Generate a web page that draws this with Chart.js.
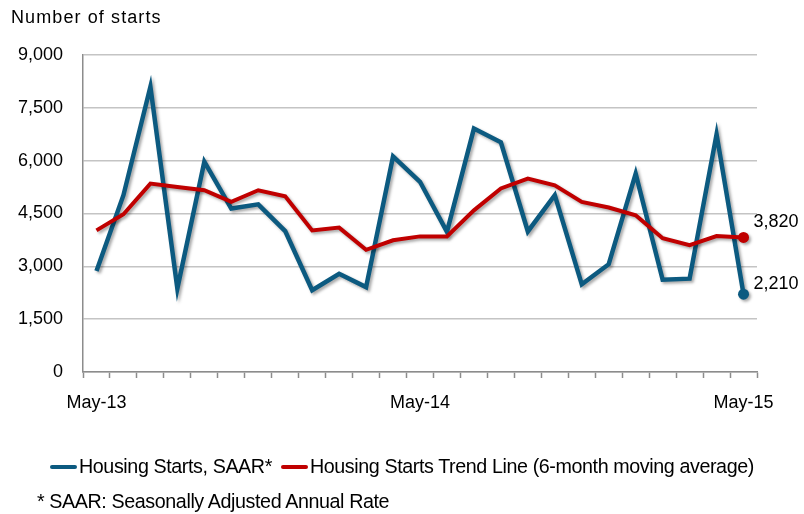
<!DOCTYPE html>
<html>
<head>
<meta charset="utf-8">
<script src="https://cdn.jsdelivr.net/npm/chart.js@4.4.1/dist/chart.umd.min.js"></script>
<style>
  html, body { margin: 0; padding: 0; background: #fff; }
  #wrap { position: relative; width: 804px; height: 514px; font-family: "Liberation Sans", Arial, sans-serif; color: #000; }
  #chart { position: absolute; left: 0; top: 0; }
  .txt { position: absolute; white-space: nowrap; font-size: 18px; line-height: 22px; }
  #yTitle { left: 11px; top: 6px; letter-spacing: 1.1px; }
  #legend { left: 50px; top: 455px; font-size: 19.7px; letter-spacing: -0.4px; }
  #legend .key { display: inline-block; width: 27px; height: 4px; vertical-align: middle; margin-right: 2px; position: relative; top: -1px; border-radius: 2px; }
  #note { left: 37px; top: 490px; font-size: 19.7px; letter-spacing: -0.4px; }
</style>
</head>
<body>
<div id="wrap">
  <canvas id="chart" width="804" height="514"></canvas>
  <div class="txt" id="yTitle">Number of starts</div>
  <div class="txt" id="legend"></div>
  <div class="txt" id="note">* SAAR: Seasonally Adjusted Annual Rate</div>
</div>
<script>
// Months from May-13 to May-15
const months = ['May-13','Jun-13','Jul-13','Aug-13','Sep-13','Oct-13','Nov-13','Dec-13',
                'Jan-14','Feb-14','Mar-14','Apr-14','May-14','Jun-14','Jul-14','Aug-14',
                'Sep-14','Oct-14','Nov-14','Dec-14','Jan-15','Feb-15','Mar-15','Apr-15','May-15'];
const shownTicks = ['May-13', 'May-14', 'May-15'];
const yTicks = [0, 1500, 3000, 4500, 6000, 7500, 9000];

// Housing starts, SAAR
const startsSaar = [2870, 5020, 8100, 2370, 5970, 4640, 4760, 4000,
                    2320, 2790, 2410, 6120, 5400, 3980, 6910, 6520,
                    3990, 5020, 2490, 3060, 5630, 2620, 2650, 6750, 2210];
// 6-month moving average trend
const startsTrend = [4020, 4480, 5350, 5250, 5160, 4830, 5160, 4990,
                     4020, 4100, 3470, 3740, 3850, 3850, 4590, 5210,
                     5490, 5300, 4830, 4670, 4450, 3800, 3600, 3860, 3820];

const seriesNames = ['Housing Starts, SAAR*', 'Housing Starts Trend Line (6-month moving average)'];
const blue = '#0c5a80';
const red = '#c00000';

// legend
document.getElementById('legend').innerHTML =
  '<span class="key" style="background:' + blue + '"></span>' + seriesNames[0] +
  '<span class="key" style="background:' + red + ';margin-left:9px"></span>' + seriesNames[1];

const last = months.length - 1;
const lastOnly = (r) => (ctx) => ctx.dataIndex === last ? r : 0;

// soft shadow under the lines
const shadowPlugin = {
  id: 'shadow',
  beforeDatasetDraw(chart) {
    const c = chart.ctx;
    c.save();
    c.shadowColor = 'rgba(0,0,0,0.35)';
    c.shadowBlur = 3;
    c.shadowOffsetX = 2;
    c.shadowOffsetY = 2;
  },
  afterDatasetDraw(chart) {
    chart.ctx.restore();
  }
};

// value label next to the last point
const endLabels = {
  id: 'endLabels',
  afterDatasetsDraw(chart) {
    const c = chart.ctx;
    c.save();
    c.font = '18px "Liberation Sans", Arial, sans-serif';
    c.fillStyle = '#000';
    c.textBaseline = 'middle';
    c.textAlign = 'left';
    chart.data.datasets.forEach((ds, i) => {
      const pt = chart.getDatasetMeta(i).data[last];
      const val = ds.data[last];
      c.fillText(val.toLocaleString('en-US'), pt.x + 10, pt.y + ds.labelDy);
    });
    c.restore();
  }
};

new Chart(document.getElementById('chart').getContext('2d'), {
  type: 'line',
  data: {
    labels: months,
    datasets: [
      {
        label: seriesNames[1],
        data: startsTrend,
        borderColor: red,
        backgroundColor: red,
        borderWidth: 4,
        pointRadius: lastOnly(5.5),
        pointHoverRadius: lastOnly(5.5),
        pointBorderWidth: 0,
        tension: 0,
        order: 0,
        labelDy: -15
      },
      {
        label: seriesNames[0],
        data: startsSaar,
        borderColor: blue,
        backgroundColor: blue,
        borderWidth: 4.5,
        pointRadius: lastOnly(5.5),
        pointHoverRadius: lastOnly(5.5),
        pointBorderWidth: 0,
        tension: 0,
        order: 1,
        labelDy: -10
      }
    ]
  },
  options: {
    responsive: false,
    animation: false,
    layout: { padding: { left: 0, top: 55, right: 47, bottom: 97 } },
    scales: {
      x: {
        offset: true,
        afterFit(scale) { scale.height = 45; },
        grid: {
          offset: true,
          drawOnChartArea: false,
          drawTicks: true,
          tickLength: 6,
          tickColor: '#8c8c8c',
          tickWidth: 1.5
        },
        border: { color: '#8c8c8c', width: 1.5 },
        ticks: {
          autoSkip: false,
          maxRotation: 0,
          padding: 14,
          color: '#000',
          font: { family: '"Liberation Sans", Arial, sans-serif', size: 18 },
          callback: function(value) {
            const lab = this.getLabelForValue(value);
            return shownTicks.includes(lab) ? lab : '';
          }
        }
      },
      y: {
        min: 0,
        max: 9000,
        afterFit(scale) { scale.width = 83; },
        afterBuildTicks(scale) { scale.ticks = yTicks.map(v => ({ value: v })); },
        grid: {
          color: '#c4c4c4',
          lineWidth: 1.5,
          drawTicks: false
        },
        border: { color: '#8c8c8c', width: 1.5 },
        ticks: {
          padding: 20,
          color: '#000',
          font: { family: '"Liberation Sans", Arial, sans-serif', size: 18 },
          callback: (v) => v.toLocaleString('en-US')
        }
      }
    },
    plugins: {
      legend: { display: false },
      tooltip: { enabled: false }
    }
  },
  plugins: [shadowPlugin, endLabels]
});
</script>
</body>
</html>
